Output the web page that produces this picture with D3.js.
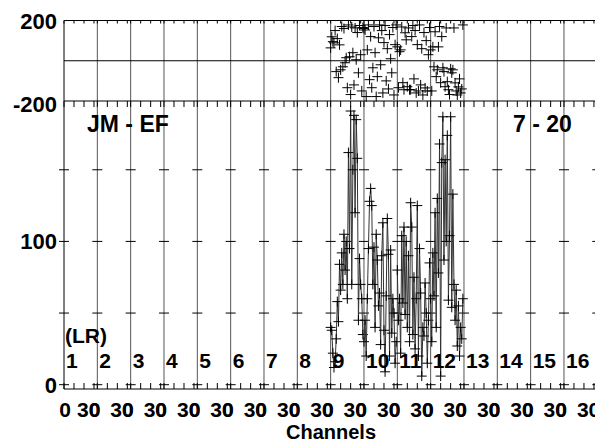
<!DOCTYPE html>
<html>
<head>
<meta charset="utf-8">
<script src="https://cdn.jsdelivr.net/npm/d3@7"></script>
<style>
body{margin:0;background:#fff;}
text{font-family:"Liberation Sans",Arial,sans-serif;font-weight:bold;fill:#000;}
</style>
</head>
<body>
<svg id="chart" width="595" height="443"></svg>
<script>
var svg;
const chansPerGroup = 30;
const groupLabels = ["1","2","3","4","5","6","7","8","9","10","11","12","13","14","15","16"];
const ampTicks = [0, 50, 100, 150];
const ampLabels = [0, 100];
const phaseLabels = [200, -200];
const minorTicks = [9, 18, 27];

// groups that have data (1-based) + their values per channel 0..29
const dataGroups = [9, 10, 11, 12];
const amp9  = [40, 38, 22, 12, 16, 32, 58, 44, 84, 66, 92, 70, 105, 80, 100, 60, 162, 95, 191, 70, 150, 188, 120, 185, 158, 45, 88, 70, 60, 35];
const amp10 = [30, 45, 20, 60, 95, 128, 137, 125, 70, 96, 40, 105, 87, 55, 64, 28, 90, 113, 38, 9, 62, 116, 91, 20, 94, 36, 60, 50, 15, 30];
const amp11 = [80, 45, 60, 22, 104, 57, 110, 49, 100, 40, 90, 30, 127, 110, 35, 75, 25, 60, 125, 20, 95, 64, 6, 40, 34, 71, 50, 15, 45, 85];
const amp12 = [60, 30, 92, 62, 120, 40, 130, 78, 168, 6, 155, 187, 87, 157, 100, 174, 59, 104, 187, 54, 133, 70, 45, 66, 27, 55, 20, 40, 32, 60];
const phase9  = [64, 119, 95, 89, 150, -54, 110, -84, 79, -45, 170, -30, 160, -10, 15, -134, 178, 20, -168, 168, 40, -120, 163, 5, 140, -60, 175, 30, -150, 165];
const phase10 = [160, 153, -178, 54, 178, -94, 120, -134, -35, 170, 40, -178, -79, 114, 178, -20, 150, -160, 90, 175, -100, 60, -140, 130, 10, -60, 165, -170, 80, 178];
const phase11 = [69, -134, 45, 54, 168, -109, -144, 139, 104, -129, 163, -144, -144, 120, 175, -90, 150, -160, 80, -150, 178, -120, 60, -170, 140, -135, 100, -150, 30, 165];
const phase12 = [54, -150, 69, -30, 144, -79, -45, 69, 170, -109, 120, -35, -54, -129, 163, -104, -144, -168, -40, -60, -45, 163, -110, -150, -170, -130, -90, -160, -140, 178];

const ampSeries = [amp9, amp10, amp11, amp12];
const phaseSeries = [phase9, phase10, phase11, phase12];

var x, yAmp, yPh;

document.addEventListener("DOMContentLoaded", function(){
	svg = d3.select("#chart");

	x = d3.scaleLinear()
		.domain([0, chansPerGroup * groupLabels.length])
		.range([64, 597.3]);
	yAmp = d3.scaleLinear()
		.domain([-3, 198])
		.range([389, 101]);
	yPh = d3.scaleLinear()
		.domain([-200, 200])
		.range([101, 20.5]);

	drawGrid();
	drawData();
	drawLabels();
});

function cross(px, py){
	return "M" + (px - 5) + "," + py + "h10M" + px + "," + (py - 5) + "v10";
}

function drawGrid(){
	var bounds = d3.range(groupLabels.length + 1).map(g => g * chansPerGroup);
	var g = svg.append("g").attr("class", "grid");

	//vertical lines at group boundaries
	g.selectAll(".vline")
		.data(bounds)
		.enter()
		.append("line")
			.attr("x1", d => x(d)).attr("x2", d => x(d))
			.attr("y1", yPh(200)).attr("y2", yAmp(-3))
			.attr("stroke", d => d == 0 ? "#000" : "#555")
			.attr("stroke-width", 1);

	//horizontal frame lines
	var hl = [yPh(200), yPh(-200), yPh(0), yAmp(-3)];
	g.selectAll(".hline")
		.data(hl)
		.enter()
		.append("line")
			.attr("x1", x(0)).attr("x2", 595)
			.attr("y1", d => d).attr("y2", d => d)
			.attr("stroke", "#000")
			.attr("stroke-width", 1);

	//small dashes on each boundary at the amplitude ticks
	var dashes = [];
	bounds.forEach(b => ampTicks.forEach(v => dashes.push({b: b, v: v})));
	g.selectAll(".dash")
		.data(dashes)
		.enter()
		.append("line")
			.attr("x1", d => x(d.b) - 5).attr("x2", d => x(d.b) + 5)
			.attr("y1", d => yAmp(d.v)).attr("y2", d => yAmp(d.v))
			.attr("stroke", "#000");

	//x ticks
	var ticks = [];
	bounds.forEach(b => ticks.push(b));
	d3.range(groupLabels.length).forEach(i => minorTicks.forEach(t => ticks.push(i * chansPerGroup + t)));
	g.selectAll(".tTop")
		.data(ticks)
		.enter()
		.append("line")
			.attr("x1", d => x(d)).attr("x2", d => x(d))
			.attr("y1", yPh(200)).attr("y2", yPh(200) + 3)
			.attr("stroke", "#000");
	g.selectAll(".tMid")
		.data(ticks)
		.enter()
		.append("line")
			.attr("x1", d => x(d)).attr("x2", d => x(d))
			.attr("y1", yPh(-200)).attr("y2", yPh(-200) + 6)
			.attr("stroke", "#000");
	g.selectAll(".tBot")
		.data(ticks)
		.enter()
		.append("line")
			.attr("x1", d => x(d)).attr("x2", d => x(d))
			.attr("y1", yAmp(-3)).attr("y2", yAmp(-3) - 6)
			.attr("stroke", "#000");
}

function drawData(){
	dataGroups.forEach(function(grp, k){
		var start = (grp - 1) * chansPerGroup;
		var amp = ampSeries[k];
		var ph = phaseSeries[k];

		//amplitude line
		svg.append("path")
			.datum(amp)
			.attr("fill", "none")
			.attr("stroke", "#333")
			.attr("stroke-width", 1)
			.attr("d", d3.line()
				.x((d, i) => x(start + i))
				.y(d => yAmp(d)));

		//amplitude markers
		svg.selectAll(".ampMark" + grp)
			.data(amp)
			.enter()
			.append("path")
				.attr("fill", "none")
				.attr("stroke", "#000")
				.attr("d", (d, i) => cross(x(start + i), yAmp(d)));

		//phase markers
		svg.selectAll(".phMark" + grp)
			.data(ph)
			.enter()
			.append("path")
				.attr("fill", "none")
				.attr("stroke", "#000")
				.attr("d", (d, i) => cross(x(start + i), yPh(d)));
	});
}

function drawLabels(){
	//y labels
	svg.selectAll(".phLab")
		.data(phaseLabels)
		.enter()
		.append("text")
			.style("font-size", "22px")
			.attr("text-anchor", "end")
			.attr("x", 57)
			.attr("y", d => yPh(d) + (d < 0 ? 11 : 8))
			.text(d => d);
	svg.selectAll(".ampLab")
		.data(ampLabels)
		.enter()
		.append("text")
			.style("font-size", "22px")
			.attr("text-anchor", "end")
			.attr("x", 57)
			.attr("y", d => yAmp(d) + 8)
			.text(d => d);

	//group numbers
	svg.selectAll(".grpLab")
		.data(groupLabels)
		.enter()
		.append("text")
			.style("font-size", "21px")
			.attr("x", (d, i) => x(i * chansPerGroup) + 2)
			.attr("y", 368)
			.text(d => d);

	svg.append("text")
		.style("font-size", "21px")
		.attr("x", 65)
		.attr("y", 343)
		.text("(LR)");

	svg.append("text")
		.style("font-size", "23px")
		.attr("x", 87)
		.attr("y", 132)
		.text("JM - EF");
	svg.append("text")
		.style("font-size", "23px")
		.attr("x", 513)
		.attr("y", 132)
		.text("7 - 20");

	//channel tick labels: "0" at start of each group, "30" at its end
	//(the next group's "0" falls on the zero of "30")
	svg.selectAll(".zeroLab")
		.data(groupLabels)
		.enter()
		.append("text")
			.style("font-size", "21px")
			.attr("text-anchor", "middle")
			.attr("x", (d, i) => i == 0 ? x(0) + 1 : x(i * chansPerGroup) - 2.8)
			.attr("y", 417)
			.text("0");
	svg.selectAll(".thirtyLab")
		.data(groupLabels)
		.enter()
		.append("text")
			.style("font-size", "21px")
			.attr("text-anchor", "end")
			.attr("x", (d, i) => x((i + 1) * chansPerGroup) + 3)
			.attr("y", 417)
			.text("30");

	svg.append("text")
		.style("font-size", "20px")
		.attr("text-anchor", "middle")
		.attr("x", 331)
		.attr("y", 439)
		.text("Channels");
}
</script>
</body>
</html>
